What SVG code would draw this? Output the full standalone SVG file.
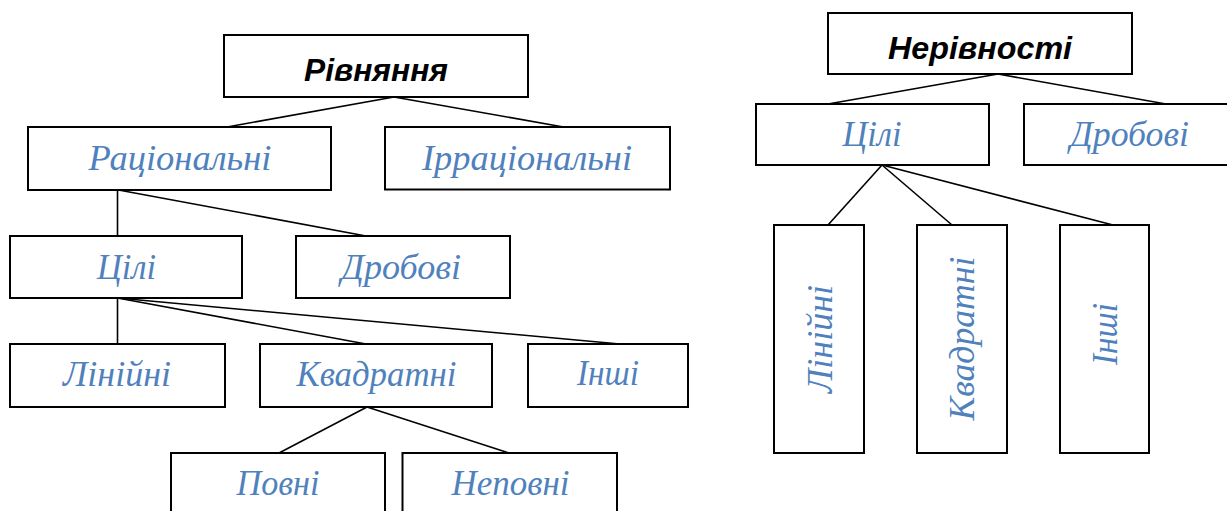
<svg xmlns="http://www.w3.org/2000/svg" width="1227" height="511" viewBox="0 0 1227 511">
<style>
.box{fill:#fff;stroke:#000;stroke-width:2}
.ln{stroke:#000;stroke-width:1.6;fill:none}
.h{font-family:"Liberation Sans","DejaVu Sans",sans-serif;font-weight:bold;font-style:italic;font-size:31px;fill:#000;text-anchor:middle}
.t{font-family:"Liberation Serif","DejaVu Serif",serif;font-style:italic;font-size:35px;fill:#4f81bd;text-anchor:middle}
</style>
<rect width="1227" height="511" fill="#fff"/>
<g id="connectors">
<line class="ln" x1="394" y1="97" x2="227" y2="127"/>
<line class="ln" x1="394" y1="97" x2="563.5" y2="127"/>
<line class="ln" x1="117.5" y1="190" x2="117.5" y2="236"/>
<line class="ln" x1="118.5" y1="190" x2="366" y2="236"/>
<line class="ln" x1="117.5" y1="298" x2="117.5" y2="344"/>
<line class="ln" x1="117.5" y1="298" x2="366" y2="344"/>
<line class="ln" x1="117.5" y1="298" x2="620" y2="344"/>
<line class="ln" x1="367" y1="407" x2="279" y2="453"/>
<line class="ln" x1="367" y1="407" x2="509" y2="453"/>
<line class="ln" x1="998" y1="74" x2="828" y2="104"/>
<line class="ln" x1="998" y1="74" x2="1166" y2="104"/>
<line class="ln" x1="882" y1="165" x2="828" y2="225"/>
<line class="ln" x1="882" y1="165" x2="952" y2="225"/>
<line class="ln" x1="882" y1="165" x2="1113" y2="225"/>
</g>
<g id="n-rivnyannya"><rect class="box" x="224" y="35" width="304" height="62"/><text class="h" x="376" y="81" textLength="144" lengthAdjust="spacingAndGlyphs">Рівняння</text></g>
<g id="n-ratsionalni"><rect class="box" x="28" y="127" width="303" height="63"/><text class="t" x="180" y="170" textLength="183" lengthAdjust="spacingAndGlyphs">Раціональні</text></g>
<g id="n-irratsionalni"><rect class="box" x="385" y="127" width="285" height="62.5"/><text class="t" x="527" y="170" textLength="210" lengthAdjust="spacingAndGlyphs">Ірраціональні</text></g>
<g id="n-tsili"><rect class="box" x="10" y="236" width="232" height="62"/><text class="t" x="126.5" y="279" textLength="59" lengthAdjust="spacingAndGlyphs">Цілі</text></g>
<g id="n-drobovi"><rect class="box" x="296" y="236" width="214" height="62"/><text class="t" x="401" y="279" textLength="120" lengthAdjust="spacingAndGlyphs">Дробові</text></g>
<g id="n-liniini"><rect class="box" x="10" y="344" width="215" height="63"/><text class="t" x="117" y="386" textLength="108" lengthAdjust="spacingAndGlyphs">Лінійні</text></g>
<g id="n-kvadratni"><rect class="box" x="260" y="344" width="232" height="63"/><text class="t" x="376.5" y="386" textLength="160" lengthAdjust="spacingAndGlyphs">Квадратні</text></g>
<g id="n-inshi"><rect class="box" x="528" y="344" width="160" height="63"/><text class="t" x="608" y="385" textLength="62" lengthAdjust="spacingAndGlyphs">Інші</text></g>
<g id="n-povni"><rect class="box" x="171" y="453" width="214" height="70"/><text class="t" x="278" y="495" textLength="83" lengthAdjust="spacingAndGlyphs">Повні</text></g>
<g id="n-nepovni"><rect class="box" x="402.5" y="453" width="214.5" height="70"/><text class="t" x="510.5" y="495" textLength="118" lengthAdjust="spacingAndGlyphs">Неповні</text></g>
<g id="n-nerivnosti"><rect class="box" x="828" y="13" width="304" height="61"/><text class="h" x="980" y="59" textLength="184" lengthAdjust="spacingAndGlyphs">Нерівності</text></g>
<g id="n-tsili-r"><rect class="box" x="756" y="104" width="233" height="61"/><text class="t" x="872" y="146" textLength="59" lengthAdjust="spacingAndGlyphs">Цілі</text></g>
<g id="n-drobovi-r"><rect class="box" x="1024" y="104" width="214" height="61"/><text class="t" x="1129.5" y="146" textLength="119" lengthAdjust="spacingAndGlyphs">Дробові</text></g>
<g id="n-liniini-r"><rect class="box" x="774" y="225" width="90" height="228"/><text class="t" transform="translate(832,339) rotate(-90)" x="0" y="0" textLength="108" lengthAdjust="spacingAndGlyphs">Лінійні</text></g>
<g id="n-kvadratni-r"><rect class="box" x="917" y="225" width="90" height="228"/><text class="t" transform="translate(974,338.5) rotate(-90)" x="0" y="0" textLength="164" lengthAdjust="spacingAndGlyphs">Квадратні</text></g>
<g id="n-inshi-r"><rect class="box" x="1060" y="225" width="89" height="228"/><text class="t" transform="translate(1117,334) rotate(-90)" x="0" y="0" textLength="62" lengthAdjust="spacingAndGlyphs">Інші</text></g>
</svg>
